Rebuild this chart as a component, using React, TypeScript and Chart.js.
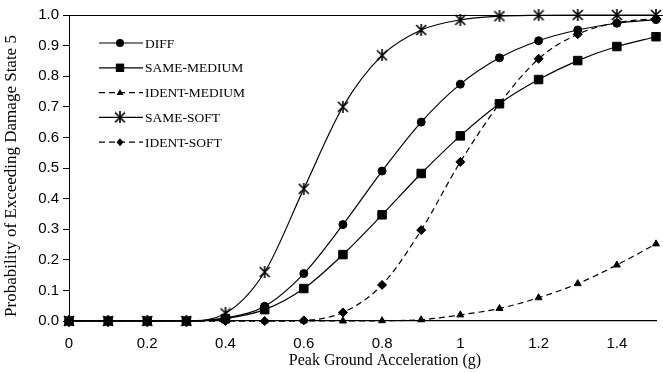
import React, { useEffect, useRef } from "react";
import { Chart, registerables } from "chart.js";

Chart.register(...registerables);

const pga = [0, 0.1, 0.2, 0.3, 0.4, 0.5, 0.6, 0.7, 0.8, 0.9, 1.0, 1.1, 1.2, 1.3, 1.4, 1.5];
const diff = [0, 0, 0, 0, 0.01, 0.048, 0.155, 0.315, 0.49, 0.65, 0.774, 0.86, 0.916, 0.951, 0.973, 0.985];
const sameMedium = [0, 0, 0, 0, 0.008, 0.037, 0.106, 0.217, 0.347, 0.482, 0.605, 0.71, 0.789, 0.851, 0.897, 0.929];
const identMedium = [0, 0, 0, 0, 0, 0, 0, 0, 0.001, 0.004, 0.02, 0.041, 0.076, 0.122, 0.183, 0.252];
const sameSoft = [0, 0, 0, 0, 0.025, 0.16, 0.432, 0.70, 0.868, 0.951, 0.984, 0.996, 0.999, 1.0, 1.0, 1.0];
const identSoft = [0, 0, 0, 0, 0, 0, 0.002, 0.028, 0.118, 0.297, 0.52, 0.71, 0.857, 0.937, 0.975, 0.988];

const seriesNames = ["DIFF", "SAME-MEDIUM", "IDENT-MEDIUM", "SAME-SOFT", "IDENT-SOFT"];
const seriesValues = [diff, sameMedium, identMedium, sameSoft, identSoft];
const seriesMarkers = ["circle", "square", "triangle", "asterisk", "diamond"];
const seriesDashed = [false, false, true, false, true];

const yTicks = [0, 0.1, 0.2, 0.3, 0.4, 0.5, 0.6, 0.7, 0.8, 0.9, 1.0];
const xTicks = [0, 0.2, 0.4, 0.6, 0.8, 1.0, 1.2, 1.4];
const xTitle = "Peak Ground Acceleration (g)";
const yTitle = "Probability of Exceeding Damage State 5";

const SERIF = "'Liberation Serif', 'Times New Roman', serif";
const SANS = "'Liberation Sans', Arial, sans-serif";

function makeAsterisk(): HTMLCanvasElement {
  const c = document.createElement("canvas");
  c.width = 12;
  c.height = 12;
  const ctx = c.getContext("2d")!;
  ctx.strokeStyle = "#000";
  ctx.lineWidth = 1.6;
  ctx.beginPath();
  ctx.moveTo(6, 0);
  ctx.lineTo(6, 12);
  ctx.moveTo(1, 1);
  ctx.lineTo(11, 11);
  ctx.moveTo(11, 1);
  ctx.lineTo(1, 11);
  ctx.stroke();
  return c;
}

function drawMarker(ctx: CanvasRenderingContext2D, kind: string, x: number, y: number, ast: HTMLCanvasElement) {
  ctx.save();
  ctx.fillStyle = "#000";
  ctx.beginPath();
  if (kind === "circle") {
    ctx.arc(x, y, 4, 0, Math.PI * 2);
    ctx.fill();
  } else if (kind === "square") {
    ctx.rect(x - 4.2, y - 4.2, 8.4, 8.4);
    ctx.fill();
  } else if (kind === "triangle") {
    ctx.moveTo(x, y - 3.5);
    ctx.lineTo(x + 3.5, y + 2.5);
    ctx.lineTo(x - 3.5, y + 2.5);
    ctx.closePath();
    ctx.fill();
  } else if (kind === "diamond") {
    ctx.moveTo(x, y - 4);
    ctx.lineTo(x + 3.5, y);
    ctx.lineTo(x, y + 4);
    ctx.lineTo(x - 3.5, y);
    ctx.closePath();
    ctx.fill();
  } else if (kind === "asterisk") {
    ctx.drawImage(ast, x - 6, y - 6);
  }
  ctx.restore();
}

export default function App() {
  const ref = useRef<HTMLCanvasElement | null>(null);

  useEffect(() => {
    const canvas = ref.current;
    if (!canvas) return;
    const ast = makeAsterisk();

    const styleFor = (kind: string) => {
      switch (kind) {
        case "circle":
          return { pointStyle: "circle", pointRadius: 4 };
        case "square":
          return { pointStyle: "rect", pointRadius: 6 };
        case "triangle":
          return { pointStyle: "triangle", pointRadius: 4 };
        case "diamond":
          return { pointStyle: "rectRot", pointRadius: 4.5 };
        default:
          return { pointStyle: ast, pointRadius: 6 };
      }
    };

    const datasets = seriesNames.map((name, i) => ({
      label: name,
      data: pga.map((x, j) => ({ x, y: seriesValues[i][j] })),
      borderColor: "#000",
      backgroundColor: "#000",
      borderWidth: 1.2,
      borderDash: seriesDashed[i] ? [6, 4] : [],
      pointBackgroundColor: "#000",
      pointBorderColor: "#000",
      pointBorderWidth: 1,
      cubicInterpolationMode: "monotone" as const,
      fill: false,
      clip: 8,
      ...styleFor(seriesMarkers[i]),
    }));

    const frame = {
      id: "frameAndLegend",
      afterDatasetsDraw(chart: any) {
        const { ctx, chartArea } = chart;
        ctx.save();
        ctx.strokeStyle = "#000";
        ctx.lineWidth = 1;
        ctx.beginPath();
        ctx.moveTo(chartArea.left, chartArea.top + 0.5);
        ctx.lineTo(chart.width, chartArea.top + 0.5);
        ctx.stroke();
        // legend
        const lx0 = 99;
        const lx1 = 143;
        const mx = 120;
        const ty0 = 43;
        const dy = 24.8;
        ctx.font = `13.5px ${SERIF}`;
        ctx.textBaseline = "middle";
        ctx.textAlign = "left";
        seriesNames.forEach((name, i) => {
          const y = ty0 + dy * i;
          ctx.beginPath();
          ctx.lineWidth = 1.2;
          ctx.setLineDash(seriesDashed[i] ? [6, 4] : []);
          ctx.moveTo(lx0, y);
          ctx.lineTo(lx1, y);
          ctx.stroke();
          ctx.setLineDash([]);
          drawMarker(ctx, seriesMarkers[i], mx, y, ast);
          ctx.fillStyle = "#000";
          ctx.fillText(name, 145, y + 1);
        });
        // axis titles
        ctx.fillStyle = "#000";
        ctx.textAlign = "center";
        ctx.textBaseline = "middle";
        ctx.font = `16px ${SERIF}`;
        ctx.fillText(xTitle, 385, 361);
        ctx.save();
        ctx.translate(12, 176);
        ctx.rotate(-Math.PI / 2);
        ctx.font = `17px ${SERIF}`;
        ctx.fillText(yTitle, 0, 0);
        ctx.restore();
        ctx.restore();
      },
    };

    const chart = new Chart(canvas, {
      type: "line",
      data: { datasets },
      options: {
        animation: false,
        responsive: false,
        layout: { padding: { top: 15, right: 0, left: 0, bottom: 0 } },
        plugins: { legend: { display: false }, tooltip: { enabled: false } },
        scales: {
          x: {
            type: "linear",
            min: 0,
            max: 1.5,
            afterBuildTicks: (s: any) => {
              s.ticks = xTicks.map((v) => ({ value: v }));
            },
            afterFit: (s: any) => {
              s.height = 52;
            },
            grid: { display: false, drawTicks: false },
            border: { display: true, color: "#000", width: 1.2 },
            ticks: {
              color: "#000",
              font: { family: SANS, size: 15 },
              padding: 14,
              maxRotation: 0,
              autoSkip: false,
              callback: (v: any) => String(Number(Number(v).toFixed(1))),
            },
          },
          y: {
            type: "linear",
            min: 0,
            max: 1,
            afterBuildTicks: (s: any) => {
              s.ticks = yTicks.map((v) => ({ value: v }));
            },
            afterFit: (s: any) => {
              s.width = 69;
            },
            grid: { display: true, drawOnChartArea: false, drawTicks: true, tickLength: 6, color: "#000", tickColor: "#000" },
            border: { display: true, color: "#000", width: 1 },
            ticks: {
              color: "#000",
              font: { family: SANS, size: 15 },
              padding: 4,
              autoSkip: false,
              callback: (v: any) => Number(v).toFixed(1),
            },
          },
        },
      },
      plugins: [frame],
    } as any);

    return () => chart.destroy();
  }, []);

  return (
    <div style={{ position: "fixed", left: 0, top: 0, width: 663, height: 373, background: "#fff" }}>
      <canvas ref={ref} width={663} height={373} style={{ width: 663, height: 373 }} />
    </div>
  );
}
